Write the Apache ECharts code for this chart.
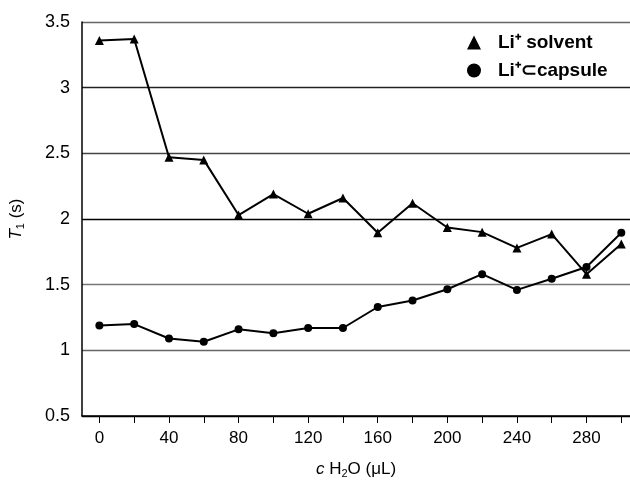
<!DOCTYPE html>
<html style="height: 100%">
<head>
<meta charset="utf-8">
<script src="https://cdn.jsdelivr.net/npm/echarts@6/dist/echarts.min.js"></script>
</head>
<body style="height: 100%; margin: 0; background: #fff">
<div id="container" style="width: 630px; height: 484px"></div>
<script type="text/javascript">
// water added, uL
const waterAdded = [0, 20, 40, 60, 80, 100, 120, 140, 160, 180, 200, 220, 240, 260, 280, 300];
// T1 (s)
const solventT1 = [3.36, 3.37, 2.47, 2.45, 2.03, 2.19, 2.04, 2.16, 1.895, 2.12, 1.935, 1.90, 1.78, 1.885, 1.58, 1.81];
const capsuleT1 = [1.19, 1.20, 1.09, 1.065, 1.16, 1.13, 1.17, 1.17, 1.33, 1.38, 1.465, 1.58, 1.46, 1.545, 1.635, 1.895];
const xTickValues = [0, 20, 40, 60, 80, 100, 120, 140, 160, 180, 200, 220, 240, 260, 280, 300];
const xLabelValues = [0, 40, 80, 120, 160, 200, 240, 280];

const dom = document.getElementById("container");
const myChart = echarts.init(dom);

function pairs(xs, ys) {
    const out = [];
    for (let i = 0; i < xs.length; i++) {
        out.push([xs[i], ys[i]]);
    }
    return out;
}

const font = 'Liberation Sans, Arial, sans-serif';

const option = {
    animation: false,
    backgroundColor: '#fff',
    grid: {
        left: 81,
        right: 0,
        top: 22,
        bottom: 62
    },
    legend: {
        orient: 'vertical',
        left: 462,
        top: 28,
        itemWidth: 14,
        itemHeight: 14,
        itemGap: 9,
        textStyle: {
            fontFamily: font,
            fontSize: 19,
            fontWeight: 'bold',
            color: '#000',
            padding: [0, 0, 0, 12]
        },
        data: [
            {name: 'Li⁺ solvent', icon: 'triangle'},
            {name: 'Li⁺⊂capsule', icon: 'circle'}
        ]
    },
    xAxis: {
        type: 'value',
        min: -10,
        max: 305,
        name: '{i|c} H{sub|2}O (μL)',
        nameLocation: 'middle',
        nameGap: 44,
        nameTextStyle: {
            fontFamily: font,
            fontSize: 17,
            color: '#000',
            rich: {
                i: {fontStyle: 'italic', fontSize: 17, fontFamily: font},
                sub: {fontSize: 11, verticalAlign: 'bottom', padding: [8, 0, 0, 0], fontFamily: font}
            }
        },
        axisLine: {onZero: false, lineStyle: {color: '#000', width: 1.5}},
        axisTick: {
            show: true,
            length: 7,
            customValues: xTickValues,
            lineStyle: {color: '#000', width: 1}
        },
        axisLabel: {
            customValues: xLabelValues,
            margin: 14,
            fontFamily: font,
            fontSize: 17,
            color: '#000'
        },
        splitLine: {show: false}
    },
    yAxis: {
        type: 'value',
        min: 0.5,
        max: 3.5,
        interval: 0.5,
        name: '{i|T}{sub|1} (s)',
        nameLocation: 'middle',
        nameGap: 56,
        nameTextStyle: {
            fontFamily: font,
            fontSize: 17,
            color: '#000',
            rich: {
                i: {fontStyle: 'italic', fontSize: 17, fontFamily: font},
                sub: {fontSize: 11, verticalAlign: 'bottom', padding: [8, 0, 0, 0], fontFamily: font}
            }
        },
        axisLine: {show: true, onZero: false, lineStyle: {color: '#000', width: 1.5}},
        axisTick: {show: false},
        axisLabel: {
            margin: 12,
            fontFamily: font,
            fontSize: 18,
            color: '#000'
        },
        splitLine: {
            show: true,
            lineStyle: {
                color: ['#000', '#666', '#777', '#000', '#444', '#222', '#666'],
                width: 1.4
            }
        }
    },
    series: [
        {
            name: 'Li⁺ solvent',
            type: 'line',
            data: pairs(waterAdded, solventT1),
            symbol: 'triangle',
            symbolSize: 9,
            itemStyle: {color: '#000'},
            lineStyle: {color: '#000', width: 2}
        },
        {
            name: 'Li⁺⊂capsule',
            type: 'line',
            data: pairs(waterAdded, capsuleT1),
            symbol: 'circle',
            symbolSize: 8,
            itemStyle: {color: '#000'},
            lineStyle: {color: '#000', width: 2}
        }
    ]
};

myChart.setOption(option, true);
</script>
</body>
</html>
